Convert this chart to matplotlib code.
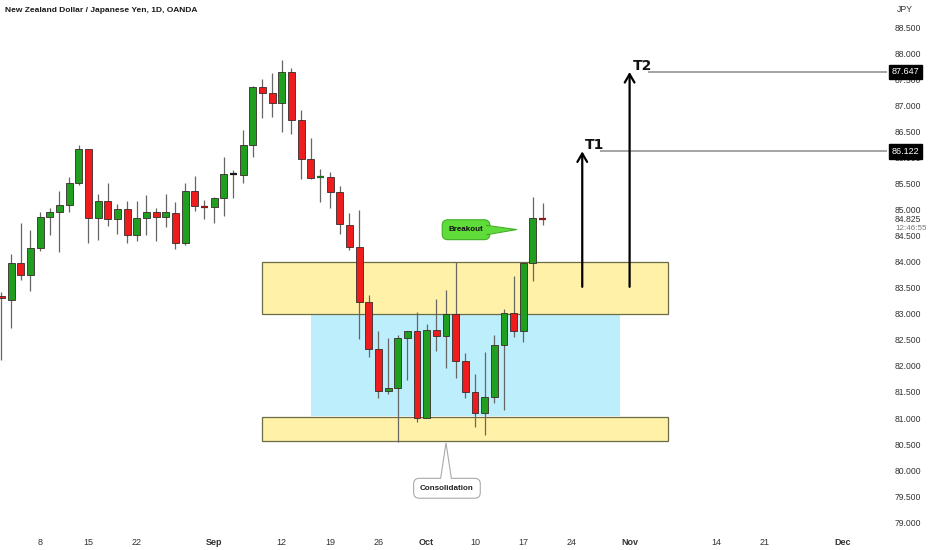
import numpy as np
import matplotlib
matplotlib.use("Agg")
import matplotlib.pyplot as plt
import matplotlib.transforms as mtransforms
from matplotlib.patches import Rectangle, Polygon

# daily candles NZD/JPY, Aug 2 - Oct 19 (bar index = trading day)
opens = [83.35, 83.27, 83.98, 83.75, 84.27, 84.87, 84.96, 85.10, 85.52, 86.17,
         84.85, 85.17, 84.83, 85.02, 84.52, 84.85, 84.96, 84.87, 84.94, 84.37,
         85.37, 85.08, 85.06, 85.23, 85.69, 85.67, 86.25, 87.35, 87.25, 87.06,
         87.65, 86.73, 85.98, 85.63, 85.63, 85.35, 84.71, 84.29, 83.23, 82.33,
         81.52, 81.58, 82.54, 82.67, 81.00, 82.69, 82.58, 83.00, 82.10, 81.50,
         81.10, 81.40, 82.40, 83.02, 82.67, 83.98, 84.85]
highs = [83.42, 84.15, 84.75, 84.62, 84.96, 85.04, 85.37, 85.63, 86.25, 86.17,
         85.31, 85.52, 85.12, 85.17, 85.17, 85.29, 85.04, 85.31, 85.15, 85.52,
         85.65, 85.19, 85.25, 86.02, 85.77, 86.54, 87.38, 87.52, 87.63, 87.88,
         87.73, 86.92, 86.37, 85.79, 85.73, 85.46, 84.94, 85.00, 83.37, 82.67,
         82.54, 82.60, 82.67, 83.04, 82.81, 83.29, 83.46, 84.00, 82.25, 81.85,
         82.27, 82.60, 83.10, 83.73, 83.98, 85.25, 85.13]
lows = [82.12, 82.73, 83.65, 83.44, 84.21, 84.52, 84.19, 84.96, 85.48, 84.37,
        84.42, 84.69, 84.54, 84.37, 84.40, 84.52, 84.40, 84.67, 84.25, 84.33,
        84.98, 84.83, 84.75, 84.88, 85.23, 85.52, 86.02, 86.77, 86.79, 86.50,
        86.46, 85.60, 85.60, 85.15, 85.04, 84.54, 84.23, 82.52, 82.17, 81.38,
        81.46, 80.54, 81.73, 80.92, 81.00, 82.29, 81.96, 81.77, 81.38, 80.83,
        80.67, 81.29, 81.15, 82.56, 82.46, 83.63, 84.71]
closes = [83.31, 83.98, 83.75, 84.27, 84.87, 84.96, 85.10, 85.52, 86.17, 84.85,
          85.17, 84.83, 85.02, 84.52, 84.85, 84.96, 84.87, 84.96, 84.37, 85.37,
          85.08, 85.06, 85.23, 85.69, 85.69, 86.25, 87.35, 87.25, 87.06, 87.65,
          86.73, 85.98, 85.62, 85.63, 85.35, 84.73, 84.29, 83.23, 82.33, 81.52,
          81.58, 82.54, 82.67, 81.00, 82.69, 82.58, 83.00, 82.10, 81.50, 81.10,
          81.40, 82.40, 83.02, 82.67, 83.98, 84.85, 84.825]

tick_pos = [4, 9, 14, 22, 29, 34, 39, 44, 49, 54, 59, 65, 74, 79, 87]
tick_txt = ["8", "15", "22", "Sep", "12", "19", "26", "Oct", "10", "17", "24",
            "Nov", "14", "21", "Dec"]
price_ticks = np.arange(79.0, 88.51, 0.5)

zone_top = (84.0, 83.0)
zone_mid = (83.0, 81.04)
zone_low = (81.02, 80.55)
t1, t2 = 86.122, 87.647
last_price = 84.825

green = "#1f9e1f"
red = "#ee1c1c"
lib = ["Liberation Sans", "DejaVu Sans"]

fig = plt.figure(figsize=(9.32, 5.50), dpi=100)
ax = fig.add_axes([0, 18 / 550, 885 / 932, 532 / 550])
ax.set_xlim(-0.155, 91.43)
ax.set_ylim(78.81, 89.03)
for s in ax.spines.values():
    s.set_visible(False)

# zones
ax.add_patch(Rectangle((32, zone_mid[1]), 32, zone_mid[0] - zone_mid[1],
                       fc="#bdeefb", ec="none", zorder=1))
for z in (zone_top, zone_low):
    ax.add_patch(Rectangle((27, z[1]), 42, z[0] - z[1], fc="#fff2a8",
                           ec="#6b6b45", lw=0.9, zorder=1))

# candles
w = 0.72
for i in range(len(opens)):
    o, h, l, c = opens[i], highs[i], lows[i], closes[i]
    ax.vlines(i, l, h, color="#666666", lw=0.9, zorder=2)
    if abs(c - o) < 0.03:
        col = "#1a1a1a" if i == 24 else ("#1d6e1d" if c >= o else "#8b1a1a")
        ax.hlines(c, i - w / 2, i + w / 2, color=col, lw=1.6, zorder=3)
        continue
    col = green if c > o else red
    ax.add_patch(Rectangle((i - w / 2, min(o, c)), w, abs(c - o), fc=col,
                           ec="#3a2a2a", lw=0.6, zorder=3))

# targets
arr = dict(arrowstyle="->,head_length=0.6,head_width=0.35", color="black",
           lw=1.6, shrinkA=0, shrinkB=0)
ax.annotate("", xy=(60.1, t1), xytext=(60.1, 83.52), arrowprops=arr, zorder=4)
ax.annotate("", xy=(65.0, t2), xytext=(65.0, 83.52), arrowprops=arr, zorder=4)
ax.text(60.4, t1 - 0.02, "T1", fontsize=10, fontweight="bold", va="bottom",
        ha="left", color="#111111")
ax.text(65.3, t2 - 0.02, "T2", fontsize=10, fontweight="bold", va="bottom",
        ha="left", color="#111111")
ax.hlines(t1, 61.9, 91.6, color="#8c8c8c", lw=1.1, clip_on=False)
ax.hlines(t2, 66.9, 91.6, color="#8c8c8c", lw=1.1, clip_on=False)

# callouts
ax.text(48.07, 84.617, "Breakout", fontsize=5.8, fontweight="bold",
        color="#111111", ha="center", va="center", family=lib, zorder=5,
        bbox=dict(boxstyle="round,pad=0.8,rounding_size=0.7", fc="#5fdc3a",
                  ec="#3fae22", lw=0.8))
tip_b = (53.3, 84.62)
ax.add_patch(Polygon([(49.9, 84.70), tip_b, (49.9, 84.52)], closed=True,
                     fc="#5fdc3a", ec="none", zorder=6))
ax.plot([50.2, tip_b[0], 50.2], [84.70, tip_b[1], 84.52], color="#3fae22",
        lw=0.8, zorder=6)

ax.text(46.1, 79.65, "Consolidation", fontsize=5.8, fontweight="bold",
        color="#222222", ha="center", va="center", family=lib, zorder=5,
        bbox=dict(boxstyle="round,pad=0.8,rounding_size=0.7", fc="white",
                  ec="#aaaaaa", lw=0.8))
tip_c = (46.0, 80.52)
ax.add_patch(Polygon([(45.45, 79.81), tip_c, (46.55, 79.81)], closed=True,
                     fc="white", ec="none", zorder=6))
ax.plot([45.45, tip_c[0], 46.55], [79.85, tip_c[1], 79.85], color="#aaaaaa",
        lw=0.8, zorder=6)

# axes text
ax.yaxis.tick_right()
ax.set_yticks(price_ticks)
ax.set_yticklabels([f"{p:.3f}" for p in price_ticks], family=lib)
ax.tick_params(axis="y", length=0, pad=7, labelsize=6.2, labelcolor="#333333")
ax.set_xticks(tick_pos)
ax.set_xticklabels(tick_txt, family=lib)
ax.tick_params(axis="x", length=0, pad=4, labelsize=6.5, labelcolor="#333333")
for lab in ax.get_xticklabels():
    if not lab.get_text().isdigit():
        lab.set_fontweight("bold")

tr = mtransforms.blended_transform_factory(ax.transAxes, ax.transData)
for p in (t1, t2):
    ax.text(1.0075, p, f"{p:.3f}", transform=tr, fontsize=6.5, color="white",
            va="center", ha="left", family=lib,
            bbox=dict(boxstyle="square,pad=0.3", fc="black", ec="black"))
ax.text(1.0113, 84.82, f"{last_price:.3f}", transform=tr, fontsize=6.2,
        color="#333333", va="center", ha="left", family=lib)
ax.text(1.0113, 84.64, "12:46:55", transform=tr, fontsize=5.8,
        color="#777777", va="center", ha="left", family=lib)
fig.text(897 / 932, 1 - 9 / 550, "JPY", fontsize=6.2, color="#333333",
         va="center", ha="left", family=lib)

fig.text(5 / 932, 1 - 10 / 550, "New Zealand Dollar / Japanese Yen, 1D, OANDA",
         fontsize=6, fontweight="bold", color="#1a1a1a", va="center", ha="left",
         family=["Liberation Sans Narrow", "Liberation Sans", "DejaVu Sans"])

fig.savefig("out.png", dpi=100)
